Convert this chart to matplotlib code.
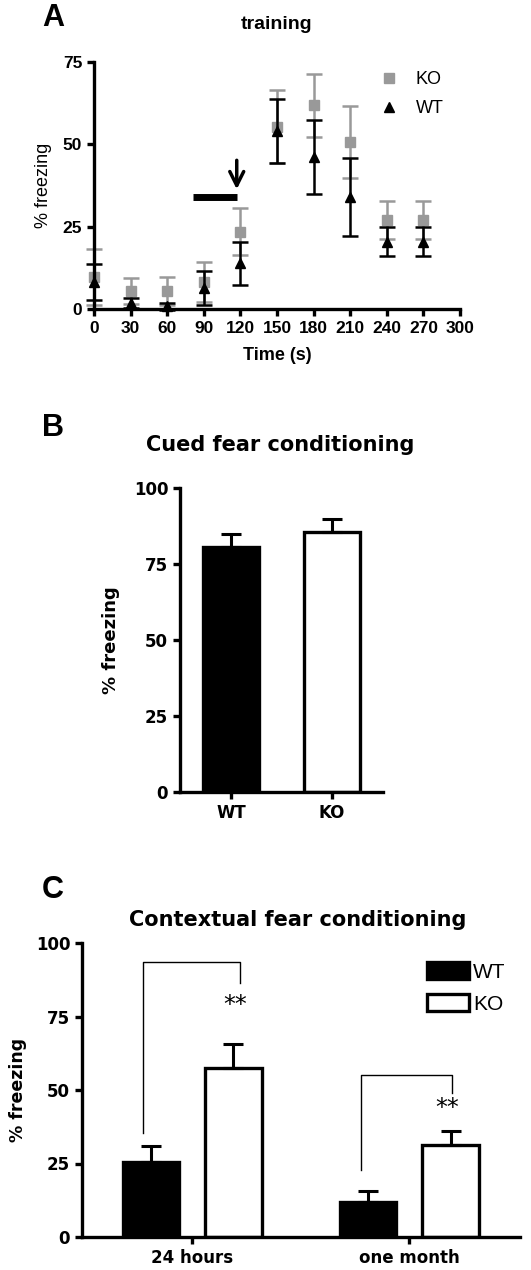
import numpy as np
import matplotlib
matplotlib.use('Agg')
import matplotlib.pyplot as plt

# ---- panel A: training time course ----
times = [0, 30, 60, 90, 120, 150, 180, 210, 240, 270]
ko_mean = [9.8, 5.5, 5.5, 8.3, 23.5, 55.3, 61.9, 50.8, 27.0, 27.0]
ko_err = [8.5, 4.0, 4.2, 6.1, 7.2, 11.1, 9.6, 10.9, 5.7, 5.7]
wt_mean = [8.3, 1.8, 0.8, 6.3, 13.9, 54.0, 46.2, 34.1, 20.4, 20.4]
wt_err = [5.5, 1.5, 1.0, 5.2, 6.5, 9.8, 11.3, 11.8, 4.4, 4.4]

# ---- panel B: cued fear ----
cued_groups = ['WT', 'KO']
cued_mean = [80.6, 85.5]
cued_err = [4.3, 4.3]

# ---- panel C: contextual fear ----
ctx_groups = ['24 hours', 'one month']
ctx_wt = [25.5, 11.9]
ctx_wt_err = [5.5, 3.6]
ctx_ko = [57.5, 31.3]
ctx_ko_err = [8.1, 4.7]

W, H = 531, 1270
fig = plt.figure(figsize=(W / 100, H / 100), dpi=100)


def ax_px(x0, y0, x1, y1):
    return fig.add_axes([x0 / W, 1 - y1 / H, (x1 - x0) / W, (y1 - y0) / H])


def style_axes(ax, lw=2.4):
    for s in ['top', 'right']:
        ax.spines[s].set_visible(False)
    for s in ['left', 'bottom']:
        ax.spines[s].set_linewidth(lw)
    ax.tick_params(width=lw, length=5)


arial = 'Liberation Sans'
blocky = 'DejaVu Sans'

# A
axA = ax_px(94, 62, 460, 309)
style_axes(axA)
axA.errorbar(times, ko_mean, yerr=ko_err, fmt='s', color='#999999', ms=7,
             capsize=5.5, elinewidth=1.8, capthick=1.8, label='KO', clip_on=False, zorder=2)
axA.errorbar(times, wt_mean, yerr=wt_err, fmt='^', color='black', ms=7,
             capsize=5.5, elinewidth=1.8, capthick=1.8, label='WT', clip_on=False, zorder=3)
axA.set_xlim(0, 300)
axA.set_ylim(0, 75)
axA.set_xticks(range(0, 301, 30))
axA.set_yticks([0, 25, 50, 75])
for lab in axA.get_xticklabels() + axA.get_yticklabels():
    lab.set_fontfamily(arial)
    lab.set_fontweight('bold')
    lab.set_fontsize(12.5)
axA.set_xlabel('Time (s)', fontfamily=arial, fontweight='bold', fontsize=13, labelpad=8)
axA.set_ylabel('% freezing', fontfamily=arial, fontsize=13, labelpad=8)
axA.set_title('training', fontfamily=arial, fontweight='bold', fontsize=14, pad=24)
# tone bar + shock arrow
axA.plot([81, 117], [34, 34], color='black', lw=5, solid_capstyle='butt')
axA.annotate('', xy=(117, 35.5), xytext=(117, 46),
             arrowprops=dict(arrowstyle='->', lw=2.5, color='black', mutation_scale=25))
h, l = axA.get_legend_handles_labels()
legA = axA.legend([hh[0] for hh in h], l, loc='upper right', bbox_to_anchor=(1.0, 1.03),
                  frameon=False, handlelength=1.0, handletextpad=1.0, labelspacing=0.7,
                  prop={'family': arial, 'size': 13})
fig.text(53 / W, 1 - 18 / H, 'A', fontfamily=arial, fontweight='bold', fontsize=22,
         ha='center', va='center')

# B
axB = ax_px(180, 488, 383, 792)
style_axes(axB)
xb = np.arange(len(cued_groups))
axB.bar(xb, cued_mean, width=0.55, color=['black', 'white'], edgecolor='black', linewidth=2.4)
axB.errorbar(xb, cued_mean, yerr=[[0, 0], cued_err], fmt='none', ecolor='black',
             elinewidth=2.2, capsize=7, capthick=2.2)
axB.set_xlim(-0.505, 1.505)
axB.set_ylim(0, 100)
axB.set_xticks(xb)
axB.set_xticklabels(cued_groups)
axB.set_yticks([0, 25, 50, 75, 100])
for lab in axB.get_xticklabels() + axB.get_yticklabels():
    lab.set_fontfamily(blocky)
    lab.set_fontweight('bold')
    lab.set_fontsize(12)
axB.set_ylabel('% freezing', fontfamily=blocky, fontweight='bold', fontsize=13, labelpad=10)
fig.text(280 / W, 1 - 445 / H, 'Cued fear conditioning', fontfamily=blocky,
         fontweight='bold', fontsize=15, ha='center', va='center')
fig.text(53 / W, 1 - 428 / H, 'B', fontfamily=arial, fontweight='bold', fontsize=22,
         ha='center', va='center')

# C
axC = ax_px(82, 943, 520, 1237)
style_axes(axC)
xc = np.arange(len(ctx_groups))
off, bw = 0.19, 0.26
axC.bar(xc - off, ctx_wt, width=bw, color='black', edgecolor='black', linewidth=2.4, label='WT')
axC.bar(xc + off, ctx_ko, width=bw, color='white', edgecolor='black', linewidth=2.4, label='KO')
axC.errorbar(xc - off, ctx_wt, yerr=[[0, 0], ctx_wt_err], fmt='none', ecolor='black',
             elinewidth=2.2, capsize=7, capthick=2.2)
axC.errorbar(xc + off, ctx_ko, yerr=[[0, 0], ctx_ko_err], fmt='none', ecolor='black',
             elinewidth=2.2, capsize=7, capthick=2.2)
axC.set_xlim(-0.507, 1.51)
axC.set_ylim(0, 100)
axC.set_xticks(xc)
axC.set_xticklabels(ctx_groups)
axC.set_yticks([0, 25, 50, 75, 100])
for lab in axC.get_xticklabels() + axC.get_yticklabels():
    lab.set_fontfamily(blocky)
    lab.set_fontweight('bold')
    lab.set_fontsize(12)
axC.set_ylabel('% freezing', fontfamily=blocky, fontweight='bold', fontsize=12.5, labelpad=6)
# significance brackets
brackets = [(-0.225, 0.22, 35.4, 93.5, 86.4, 79.0), (0.78, 1.195, 22.8, 55.0, 49.0, 44.0)]
for x0, x1, ylo, ytop, yend, ystar in brackets:
    axC.plot([x0, x0, x1, x1], [ylo, ytop, ytop, yend], color='black', lw=1.0)
    axC.text(x1 - 0.02, ystar, '**', fontsize=17, ha='center', va='center', fontfamily=blocky)
axC.legend(loc='upper right', bbox_to_anchor=(1.01, 1.0), frameon=False,
           handlelength=2.0, handleheight=0.9, handletextpad=0.2, labelspacing=0.6,
           prop={'family': arial, 'size': 15})
fig.text(298 / W, 1 - 920 / H, 'Contextual fear conditioning', fontfamily=blocky,
         fontweight='bold', fontsize=15, ha='center', va='center')
fig.text(53 / W, 1 - 890 / H, 'C', fontfamily=arial, fontweight='bold', fontsize=22,
         ha='center', va='center')

fig.savefig('out.png', dpi=100)
